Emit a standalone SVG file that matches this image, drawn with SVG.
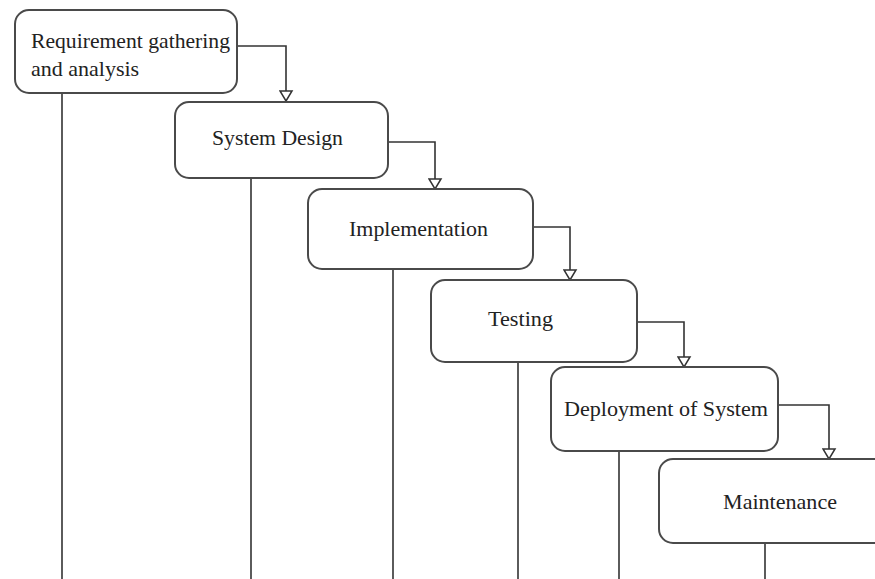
<svg xmlns="http://www.w3.org/2000/svg" width="875" height="579" viewBox="0 0 875 579">
<style>
.box{fill:#fff;stroke:#4a4a4a;stroke-width:2}
.lbl{font-family:"Liberation Serif","Times New Roman",serif;font-size:22px;fill:#222}
.ln{fill:none;stroke:#333;stroke-width:1.6}
</style>
<defs>
<marker id="tri" markerWidth="16" markerHeight="14" refX="7" refY="11" orient="0" markerUnits="userSpaceOnUse">
<path d="M1,1 L13,1 L7,11 Z" fill="#fff" stroke="#333" stroke-width="1.5"/>
</marker>
</defs>
<rect width="875" height="579" fill="#fff"/>
<g id="connectors">
<line class="ln" x1="62" y1="93" x2="62" y2="579"/>
<line class="ln" x1="251" y1="178" x2="251" y2="579"/>
<line class="ln" x1="393" y1="269" x2="393" y2="579"/>
<line class="ln" x1="518" y1="362" x2="518" y2="579"/>
<line class="ln" x1="619" y1="451" x2="619" y2="579"/>
<line class="ln" x1="765" y1="543" x2="765" y2="579"/>
<polyline class="ln" points="237,46 286,46 286,101" marker-end="url(#tri)"/>
<polyline class="ln" points="388,142 435,142 435,189" marker-end="url(#tri)"/>
<polyline class="ln" points="533,227 570,227 570,280" marker-end="url(#tri)"/>
<polyline class="ln" points="637,322 684,322 684,367" marker-end="url(#tri)"/>
<polyline class="ln" points="778,405 829,405 829,459" marker-end="url(#tri)"/>
</g>
<g id="n1">
<rect class="box" x="15" y="10" width="222" height="83" rx="14"/>
<text class="lbl" x="31" y="48" textLength="199" lengthAdjust="spacingAndGlyphs">Requirement gathering</text>
<text class="lbl" x="31" y="76">and analysis</text>
</g>
<g id="n2">
<rect class="box" x="175" y="102" width="213" height="76" rx="14"/>
<text class="lbl" x="212" y="145" textLength="131" lengthAdjust="spacingAndGlyphs">System Design</text>
</g>
<g id="n3">
<rect class="box" x="308" y="189" width="225" height="80" rx="14"/>
<text class="lbl" x="349" y="236" textLength="139" lengthAdjust="spacingAndGlyphs">Implementation</text>
</g>
<g id="n4">
<rect class="box" x="431" y="280" width="206" height="82" rx="14"/>
<text class="lbl" x="488" y="326" textLength="65" lengthAdjust="spacingAndGlyphs">Testing</text>
</g>
<g id="n5">
<rect class="box" x="551" y="367" width="227" height="84" rx="14"/>
<text class="lbl" x="564" y="416" textLength="204" lengthAdjust="spacingAndGlyphs">Deployment of System</text>
</g>
<g id="n6">
<rect class="box" x="659" y="459" width="240" height="84" rx="14"/>
<text class="lbl" x="723" y="509" textLength="114" lengthAdjust="spacingAndGlyphs">Maintenance</text>
</g>
</svg>
